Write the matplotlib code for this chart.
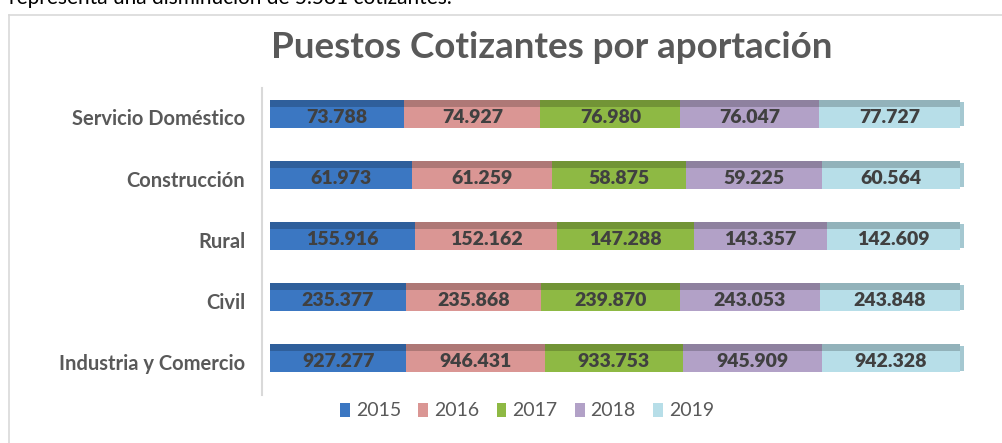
import numpy as np
import matplotlib.pyplot as plt
from matplotlib.patches import Patch
from matplotlib.lines import Line2D
import matplotlib.colors as mcolors

plt.rcParams['font.family'] = ['Lato', 'DejaVu Sans']

categorias = ['Industria y Comercio', 'Civil', 'Rural', 'Construcción', 'Servicio Doméstico']
anios = ['2015', '2016', '2017', '2018', '2019']
v2015 = [927277, 235377, 155916, 61973, 73788]
v2016 = [946431, 235868, 152162, 61259, 74927]
v2017 = [933753, 239870, 147288, 58875, 76980]
v2018 = [945909, 243053, 143357, 59225, 76047]
v2019 = [942328, 243848, 142609, 60564, 77727]
colores = ['#3B77C2', '#DA9694', '#8EB944', '#B2A1C7', '#B7DEE8']

series = np.array([v2015, v2016, v2017, v2018, v2019], dtype=float)
totales = series.sum(axis=0)
partes = series / totales

def fmt(v):
    return f'{int(v):,}'.replace(',', '.')

fig = plt.figure(figsize=(10.02, 4.43), dpi=100)
W, H = 1002, 443
ax = fig.add_axes([262 / W, 1 - 395 / H, 704 / W, (395 - 88) / H])

y = np.arange(len(categorias))
h_front = 0.344
h_top = 0.115
izq = np.zeros(len(categorias))
for i, anio in enumerate(anios):
    base = mcolors.to_rgb(colores[i])
    oscuro = tuple(c * 0.8 for c in base)
    ax.barh(y, partes[i], left=izq, height=h_front, color=colores[i], edgecolor='none', zorder=3)
    ax.barh(y + h_front / 2 + h_top / 2, partes[i], left=izq, height=h_top,
            color=oscuro, edgecolor='none', zorder=3)
    for j in range(len(categorias)):
        ax.text(izq[j] + partes[i][j] / 2, y[j], fmt(series[i][j]), ha='center', va='center',
                fontsize=14, fontweight='heavy', color='#404040', zorder=4)
    izq = izq + partes[i]

# right end cap of the last segment
cap = tuple(c * 0.9 for c in mcolors.to_rgb(colores[-1]))
ax.barh(y + h_top / 2, 0.006, left=izq, height=h_front + h_top * 0.5, color=cap,
        edgecolor='none', zorder=2)

ax.set_xlim(-8 / 690, 1 + 6 / 690)
ax.set_ylim(-0.54, 4.48)
ax.set_yticks(y)
ax.set_yticklabels(categorias, fontsize=14.5, fontweight='bold', color='#595959')
ax.tick_params(axis='y', length=0, pad=12)
ax.set_xticks([])
for s in ['top', 'right', 'bottom']:
    ax.spines[s].set_visible(False)
ax.spines['left'].set_color('#D9D9D9')
ax.spines['left'].set_linewidth(1.5)

fig.text(552 / W, 1 - 48 / H, 'Puestos Cotizantes por aportación', ha='center', va='center',
         fontsize=26.5, fontweight='bold', color='#595959')

fig.text(9 / W, 1 - 4 / H, 'representa una disminución de 5.581 cotizantes.', ha='left',
         va='baseline', fontsize=15, color='#000000')

handles = [Patch(facecolor=c, edgecolor='none') for c in colores]
fig.legend(handles, anios, loc='center', bbox_to_anchor=(527 / W, 1 - 411 / H), ncol=5,
           frameon=False, fontsize=14, handlelength=0.5, handleheight=0.7,
           handletextpad=0.3, columnspacing=0.9, labelcolor='#595959')

fig.add_artist(Line2D([9 / W, 9 / W], [0, 1 - 15 / H], color='#D9D9D9', lw=1.2))
fig.add_artist(Line2D([9 / W, 1], [1 - 15 / H, 1 - 15 / H], color='#D9D9D9', lw=1.2))

fig.savefig('out.png', dpi=100)
